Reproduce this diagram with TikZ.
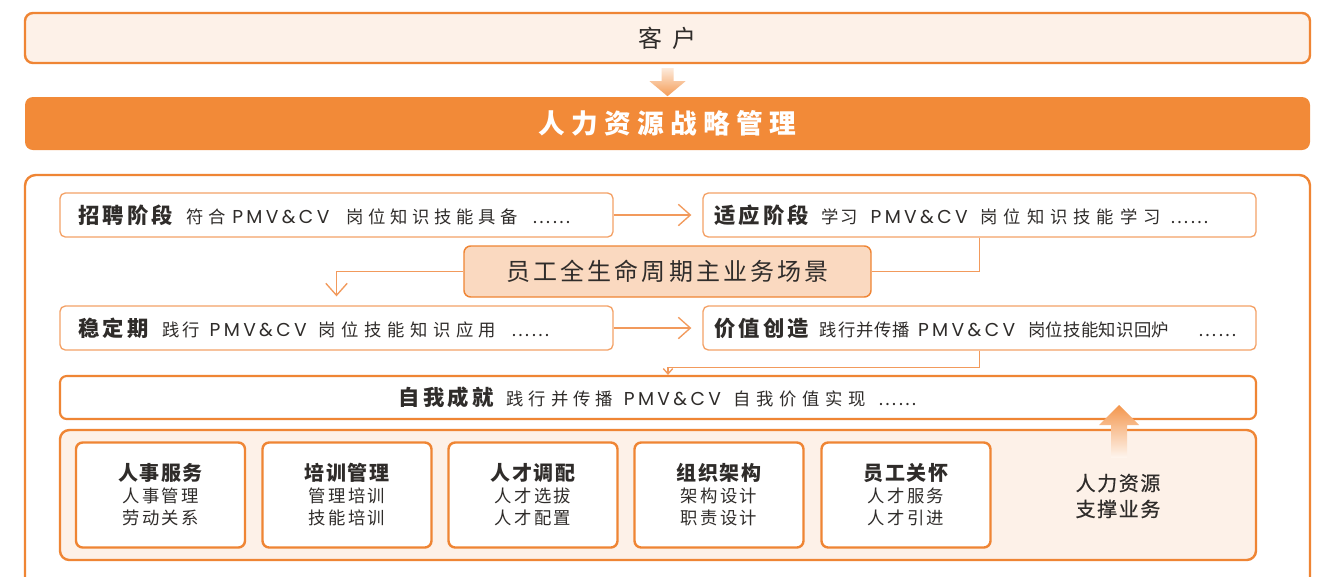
\documentclass[tikz,border=0pt]{standalone}
\usepackage{fontspec}
\setmainfont{Noto Sans CJK SC}
\newfontfamily\latinf{Poppins}
\usetikzlibrary{arrows.meta,calc}
\definecolor{orMain}{HTML}{F28A38}
\definecolor{orLine}{HTML}{EF8534}
\definecolor{orThin}{HTML}{F4A267}
\definecolor{cream}{HTML}{FDF1E8}
\definecolor{peach}{HTML}{FAD9C0}
\definecolor{txt}{HTML}{2F2C2A}
\definecolor{connc}{HTML}{F29A5C}
\newdimen\px \px=0.75pt
\newcommand{\fsz}[2]{\fontsize{#1}{#2}\selectfont}
\newcommand{\ttl}[1]{{\bfseries\fsz{16pt}{18pt}\addfontfeature{LetterSpace=15}#1}}
\newcommand{\dsc}[2]{{\fsz{13pt}{15pt}\addfontfeature{LetterSpace=#1}#2}}
\newcommand{\pmv}{{\latinf\fsz{14pt}{15pt}\addfontfeature{LetterSpace=18}PMV\&CV}}
\newcommand{\dts}{{\fsz{13pt}{15pt}\addfontfeature{LetterSpace=10}……}}
\newcommand{\gp}[1]{\hspace{#1\px}}
\newcommand{\stl}[1]{{\bfseries\fsz{15pt}{16.5pt}\addfontfeature{LetterSpace=8}#1}}
\newcommand{\ssub}[1]{{\fsz{13pt}{16.5pt}\addfontfeature{LetterSpace=13}#1}}
\begin{document}
\begin{tikzpicture}[x=0.75pt,y=-0.75pt,
  custbox/.style={draw=orLine, line width=1.8pt, fill=cream, rounded corners=6pt,
    minimum width=1285*0.75pt, minimum height=50*0.75pt, inner sep=0pt, text=txt},
  barbox/.style={fill=orMain, rounded corners=6pt, minimum width=1285*0.75pt,
    minimum height=53*0.75pt, inner sep=0pt, text=white},
  rowbox/.style={draw=orThin, line width=1pt, fill=white, rounded corners=4pt,
    minimum height=44*0.75pt, text width=517*0.75pt, inner xsep=18*0.75pt,
    inner ysep=0pt, align=left, text=txt},
  rowboxR/.style={rowbox, text width=531*0.75pt, inner xsep=11*0.75pt},
  selfbox/.style={draw=orLine, line width=1.6pt, fill=white, rounded corners=5pt,
    minimum width=1196*0.75pt, minimum height=43*0.75pt, inner sep=0pt, text=txt},
  centerbox/.style={draw=orLine, line width=1.1pt, fill=peach, rounded corners=5pt,
    minimum width=407*0.75pt, minimum height=51*0.75pt, inner sep=0pt, text=txt},
  areabox/.style={draw=orLine, line width=1.8pt, fill=cream, rounded corners=7pt,
    minimum width=1196*0.75pt, minimum height=130*0.75pt, inner sep=0pt},
  supbox/.style={draw=orLine, line width=1.8pt, fill=white, rounded corners=5pt,
    minimum width=169*0.75pt, minimum height=105*0.75pt, inner sep=0pt,
    align=center, text=txt, font=\fsz{13pt}{16.5pt}},
  conn/.style={draw=connc, line width=1pt, -{Straight Barb[length=9pt,width=16pt]}},
  connsmall/.style={draw=connc, line width=1pt, -{Straight Barb[length=4pt,width=7pt]}}
]
\clip (0,0) rectangle (1325,576);
\fill[white] (0,0) rectangle (1325,576);

% top boxes
\node[custbox] (cust) at (667.5,38)
  {\fsz{18pt}{20pt}\addfontfeature{LetterSpace=20}客 户};
\node[barbox] (bar) at (667.5,123.5)
  {\bfseries\fsz{20pt}{22pt}\addfontfeature{LetterSpace=24}人力资源战略管理};

% outer frame
\draw[draw=orLine, line width=1.8pt, rounded corners=8pt] (25,175) rectangle (1310,620);

% stages
\node[rowbox] (zp) at (336.5,215) {\mbox{\ttl{招聘阶段}\gp{14}\dsc{27}{符合}\gp{6}\pmv\gp{17}\dsc{27}{岗位知识技能具备}\gp{15}\dts}};
\node[rowboxR] (sy) at (979.5,215) {\mbox{\ttl{适应阶段}\gp{13}\dsc{6}{学习}\gp{13}\pmv\gp{13}\dsc{34}{岗位知识技能学习}\gp{10}\dts}};
\node[centerbox] (cb) at (667.5,271.5)
  {\fsz{18pt}{20pt}\addfontfeature{LetterSpace=13}员工全生命周期主业务场景};
\node[rowbox] (wd) at (336.5,328) {\mbox{\ttl{稳定期}\gp{14}\dsc{15}{践行}\gp{10}\pmv\gp{12}\dsc{32}{岗位技能知识应用}\gp{15}\dts}};
\node[rowboxR] (jz) at (979.5,328) {\mbox{\ttl{价值创造}\gp{11}\dsc{5}{践行并传播}\gp{8}\pmv\gp{13}\dsc{2}{岗位技能知识回炉}\gp{29}\dts}};
\node[selfbox] (zw) at (658,397.5) {\mbox{\ttl{自我成就}\gp{13}\dsc{28}{践行并传播}\gp{11}\pmv\gp{13}\dsc{32}{自我价值实现}\gp{13}\dts}};

% connectors
\draw[conn, shorten >=8.25pt] (zp.east) -- (sy.west);
\draw[conn, shorten >=8.25pt] (wd.east) -- (jz.west);
\draw[draw=connc, line width=1pt] (sy.south) |- (cb.east);
\draw[conn, shorten >=6.75pt] (cb.west) -| (wd.north);
\draw[connsmall] (jz.south) -- ++(0,17) -| ($(zw.north)+(10,0)$);

% support area
\node[areabox] (sup) at (658,495) {};
\node[supbox] (s1) at (160.5,495) {\stl{人事服务}\\\ssub{人事管理}\\\ssub{劳动关系}};
\node[supbox] (s2) at (347,495) {\stl{培训管理}\\\ssub{管理培训}\\\ssub{技能培训}};
\node[supbox] (s3) at (533,495) {\stl{人才调配}\\\ssub{人才选拔}\\\ssub{人才配置}};
\node[supbox] (s4) at (719,495) {\stl{组织架构}\\\ssub{架构设计}\\\ssub{职责设计}};
\node[supbox] (s5) at (906,495) {\stl{员工关怀}\\\ssub{人才服务}\\\ssub{人才引进}};
\node[align=center, text=txt, font=\fsz{15pt}{19.5pt}\addfontfeature{LetterSpace=8,FakeBold=0.6}] (hrs) at (1118,496) {人力资源\\支撑业务};

% block arrows
\shade[top color=orMain!18, bottom color=orMain!85]
  ($(cust.south)+(-6,4)$) -- ($(cust.south)+(6,4)$) -- ($(cust.south)+(6,17)$)
  -- ($(cust.south)+(18,17)$) -- ($(cust.south)+(0,32)$) -- ($(cust.south)+(-18,17)$)
  -- ($(cust.south)+(-6,17)$) -- cycle;
\shade[bottom color=orMain!8, top color=orMain!90]
  (1111,458) -- (1127,458) -- (1127,425) -- (1139,425) -- (1119,405)
  -- (1099,425) -- (1111,425) -- cycle;
\end{tikzpicture}
\end{document}
